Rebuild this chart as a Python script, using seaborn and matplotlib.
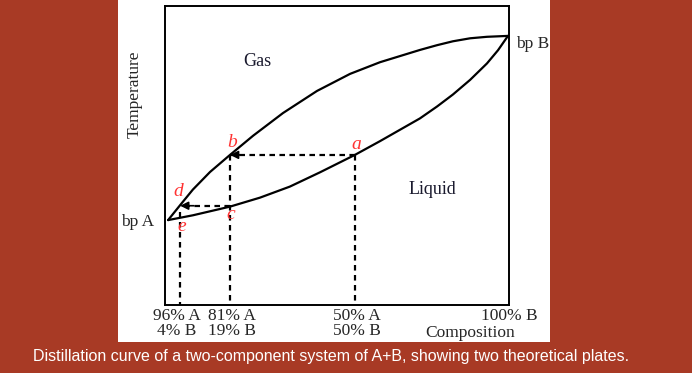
import numpy as np
import pandas as pd
import matplotlib.pyplot as plt
import matplotlib.patches as mpatches
import seaborn as sns

# composition (fraction of B, schematic) and temperature (arbitrary units)
vapor_x = [0.009, 0.044, 0.081, 0.131, 0.189, 0.256, 0.343, 0.442, 0.538, 0.625,
           0.741, 0.791, 0.837, 0.887, 0.936, 0.997]
vapor_t = [28.4, 33.4, 38.6, 44.5, 50.2, 56.6, 64.2, 71.6, 77.3, 81.2,
           85.3, 86.9, 88.2, 89.2, 89.7, 90.0]
liquid_x = [0.009, 0.081, 0.189, 0.276, 0.363, 0.451, 0.552, 0.625, 0.741, 0.791,
            0.837, 0.887, 0.936, 0.968, 0.997]
liquid_t = [28.4, 30.0, 32.9, 35.9, 39.6, 44.4, 50.2, 54.8, 62.4, 66.4,
            70.4, 75.3, 80.8, 85.2, 90.0]

tick_pos = [0.035, 0.195, 0.558, 1.0]
tick_labels = ["96% A\n4% B", "81% A\n19% B", "50% A\n50% B", "100% B"]

# plate points: a (liquid) -> b (vapor) -> c (liquid) -> d (vapor) / e
a = (0.552, 50.2)
b = (0.189, 50.2)
c = (0.189, 33.2)
d = (0.044, 33.2)

bg_red = "#a83a25"
red = "#ff3333"
serif = ["Liberation Serif", "DejaVu Serif"]

sns.set_style("white")
plt.rcParams["font.family"] = serif

fig = plt.figure(figsize=(6.92, 3.73), dpi=100, facecolor=bg_red)
fig.patches.append(mpatches.Rectangle((118 / 692, 31 / 373), 432 / 692, 342 / 373,
                                      transform=fig.transFigure, facecolor="white",
                                      edgecolor="none", zorder=-5))
ax = fig.add_axes([165 / 692, 68 / 373, 344 / 692, 299 / 373])
ax.set_facecolor("white")

df = pd.concat([
    pd.DataFrame({"comp": vapor_x, "temp": vapor_t, "phase": "vapor"}),
    pd.DataFrame({"comp": liquid_x, "temp": liquid_t, "phase": "liquid"}),
])
sns.lineplot(data=df, x="comp", y="temp", units="phase", estimator=None, sort=False,
             color="black", lw=1.6, ax=ax)

dash = (0, (2.5, 2))
kw = dict(color="black", lw=1.6, ls=dash)
ax.plot([a[0], b[0]], [a[1], b[1]], **kw)
ax.plot([c[0], d[0]], [c[1], d[1]], **kw)
ax.plot([a[0], a[0]], [a[1], 0], **kw)
ax.plot([b[0], b[0]], [b[1], 0], **kw)
ax.plot([d[0], d[0]], [d[1] - 2, 0], **kw)
for p in (b, d):
    ax.annotate("", xy=p, xytext=(p[0] + 0.04, p[1]),
                arrowprops=dict(arrowstyle="-|>", color="black", lw=1.2,
                                mutation_scale=12, shrinkA=0, shrinkB=0))

pts = {"a": (0.555, 53.8), "b": (0.195, 54.2), "c": (0.192, 30.2),
       "d": (0.038, 38.1), "e": (0.049, 26.1)}
for k, (px, py) in pts.items():
    ax.text(px, py, k, color=red, fontsize=14, style="italic", ha="center", va="center")

ax.text(0.267, 81.3, "Gas", fontsize=13, ha="center", va="center", color="#1a1a2e")
ax.text(0.776, 38.5, "Liquid", fontsize=13, ha="center", va="center", color="#1a1a2e")
ax.text(1.02, 87.3, "bp B", fontsize=12.5, ha="left", va="center",
        transform=ax.get_yaxis_transform())
ax.text(0.887, -0.094, "Composition", fontsize=12.5, ha="center", va="center",
        transform=ax.get_xaxis_transform())

ax.set_xlim(0, 1)
ax.set_ylim(0, 100)
ax.set_xticks(tick_pos)
ax.set_xticklabels(tick_labels, fontsize=12.5, linespacing=0.95)
ax.set_yticks([28.4])
ax.set_yticklabels(["bp A"], fontsize=12.5)
ax.tick_params(length=0, pad=2)
ax.tick_params(axis="y", pad=8)
ax.set_xlabel("")
ax.set_ylabel("Temperature", fontsize=12.5)
ax.yaxis.set_label_coords(-0.064, 0.706)
for s in ax.spines.values():
    s.set_visible(True)
    s.set_color("black")
    s.set_linewidth(1.4)

fig.text(331 / 692, 1 - 357 / 373,
         "Distillation curve of a two-component system of A+B, showing two theoretical plates.",
         color="white", fontsize=11.5, ha="center", va="center",
         family=["Liberation Sans", "DejaVu Sans"])

fig.savefig("out.png", dpi=100, facecolor=bg_red)
